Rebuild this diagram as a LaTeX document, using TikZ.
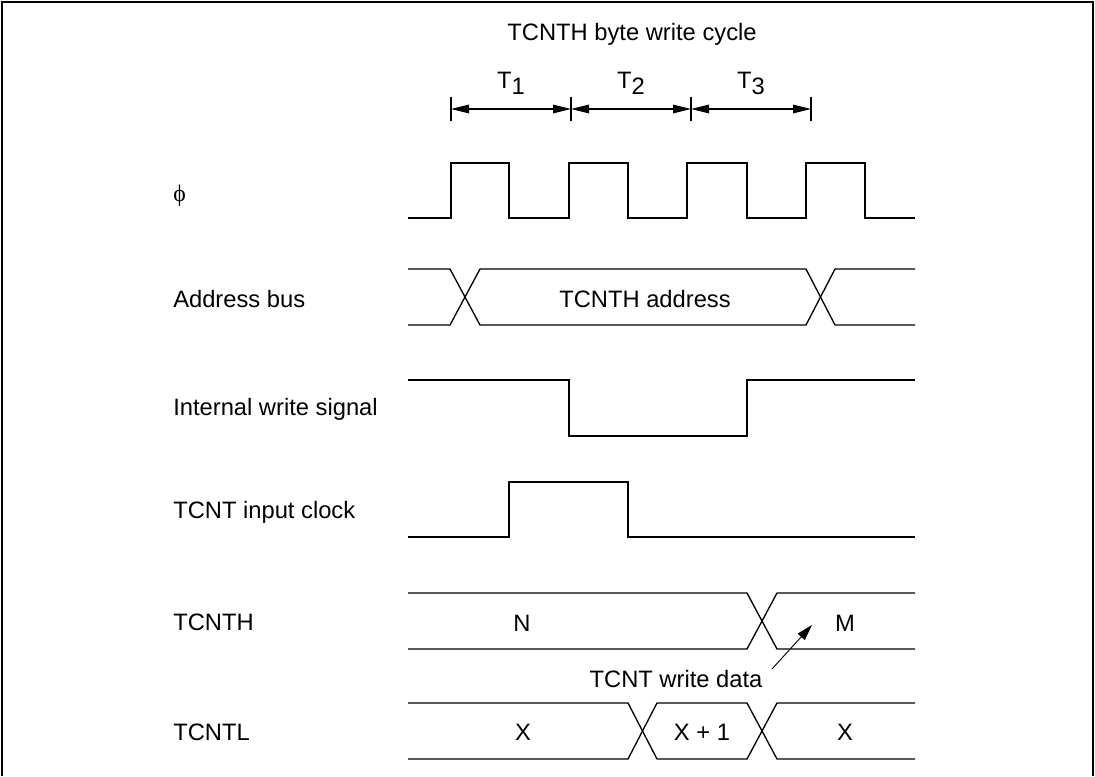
\documentclass[tikz,border=0pt]{standalone}
\usepackage{fontspec}
\setmainfont{Liberation Sans}
\newfontfamily\greekserif{Liberation Serif}
\usetikzlibrary{arrows.meta}
\newcommand{\lowsub}[1]{\raisebox{-5pt}{#1}}
\begin{document}
\begin{tikzpicture}[x=0.75pt,y=-0.75pt,
  sig/.style={line width=1pt,line join=miter},
  lbl/.style={inner sep=0pt,anchor=base,font=\fontsize{17.8}{21}\selectfont},
  lft/.style={lbl,anchor=base west},
  dim/.style={line width=0.8pt,{Triangle[length=13.5pt,width=6.5pt]}-{Triangle[length=13.5pt,width=6.5pt]}},
  tick/.style={line width=0.8pt}]
\useasboundingbox (0,0) rectangle (1095,776);
\draw[line width=1.1pt] (2,776) -- (2,2) -- (1093,2) -- (1093,776);

% title
\node[lbl] (title) at (632,40) {TCNTH byte write cycle};

% T1..T3 dimension
\coordinate (t0) at (451,109);
\coordinate (t1) at (571,109);
\coordinate (t2) at (691,109);
\coordinate (t3) at (811,109);
\foreach \t in {t0,t1,t2,t3} \draw[tick] ([yshift=9pt]\t) -- ([yshift=-9pt]\t);
\draw[dim] (t0) -- (t1);
\draw[dim] (t1) -- (t2);
\draw[dim] (t2) -- (t3);
\node[lbl] (T1) at (511,88) {T\lowsub{1}};
\node[lbl] (T2) at (631,88) {T\lowsub{2}};
\node[lbl] (T3) at (751,88) {T\lowsub{3}};

% left labels
\node[lft] (lphi) at (173,201) {\greekserif ϕ};
\node[lft] (laddr) at (173,307) {Address bus};
\node[lft] (lwr) at (173,415) {Internal write signal};
\node[lft] (lclk) at (173,518) {TCNT input clock};
\node[lft] (lh) at (173,630) {TCNTH};
\node[lft] (ll) at (173,740) {TCNTL};

% phi clock
\draw[sig] (408,218) -- (451,218) -- (451,163) -- (509,163) -- (509,218) -- (569,218) -- (569,163) -- (628,163) -- (628,218) -- (687,218) -- (687,163) -- (747,163) -- (747,218) -- (806,218) -- (806,163) -- (865,163) -- (865,218) -- (915,218);

% address bus
\draw[sig] (408,269) -- (450,269) -- (480,325) -- (806,325) -- (835,269) -- (915,269);
\draw[sig] (408,325) -- (450,325) -- (480,269) -- (806,269) -- (835,325) -- (915,325);
\node[lbl] (aval) at (645,307) {TCNTH address};

% internal write signal
\draw[sig] (408,380) -- (569,380) -- (569,436) -- (747,436) -- (747,380) -- (915,380);

% TCNT input clock
\draw[sig] (408,537) -- (509,537) -- (509,482) -- (628,482) -- (628,537) -- (915,537);

% TCNTH
\draw[sig] (408,593) -- (747,593) -- (777,649) -- (915,649);
\draw[sig] (408,649) -- (747,649) -- (777,593) -- (915,593);
\node[lbl] (hN) at (522,631) {N};
\node[lbl] (hM) at (845,631) {M};

% TCNT write data annotation
\node[lbl] (wd) at (676,687) {TCNT write data};
\coordinate (wds) at (772,669);
\coordinate (wdt) at (812,625);
\draw[line width=0.7pt,-{Triangle[length=12pt,width=7pt]}] (wds) -- (wdt);

% TCNTL
\draw[sig] (408,703) -- (628,703) -- (657,759) -- (747,759) -- (777,703) -- (915,703);
\draw[sig] (408,759) -- (628,759) -- (657,703) -- (747,703) -- (777,759) -- (915,759);
\node[lbl] (lX1) at (523,740) {X};
\node[lbl] (lX2) at (702,740) {X + 1};
\node[lbl] (lX3) at (845,740) {X};
\end{tikzpicture}
\end{document}
